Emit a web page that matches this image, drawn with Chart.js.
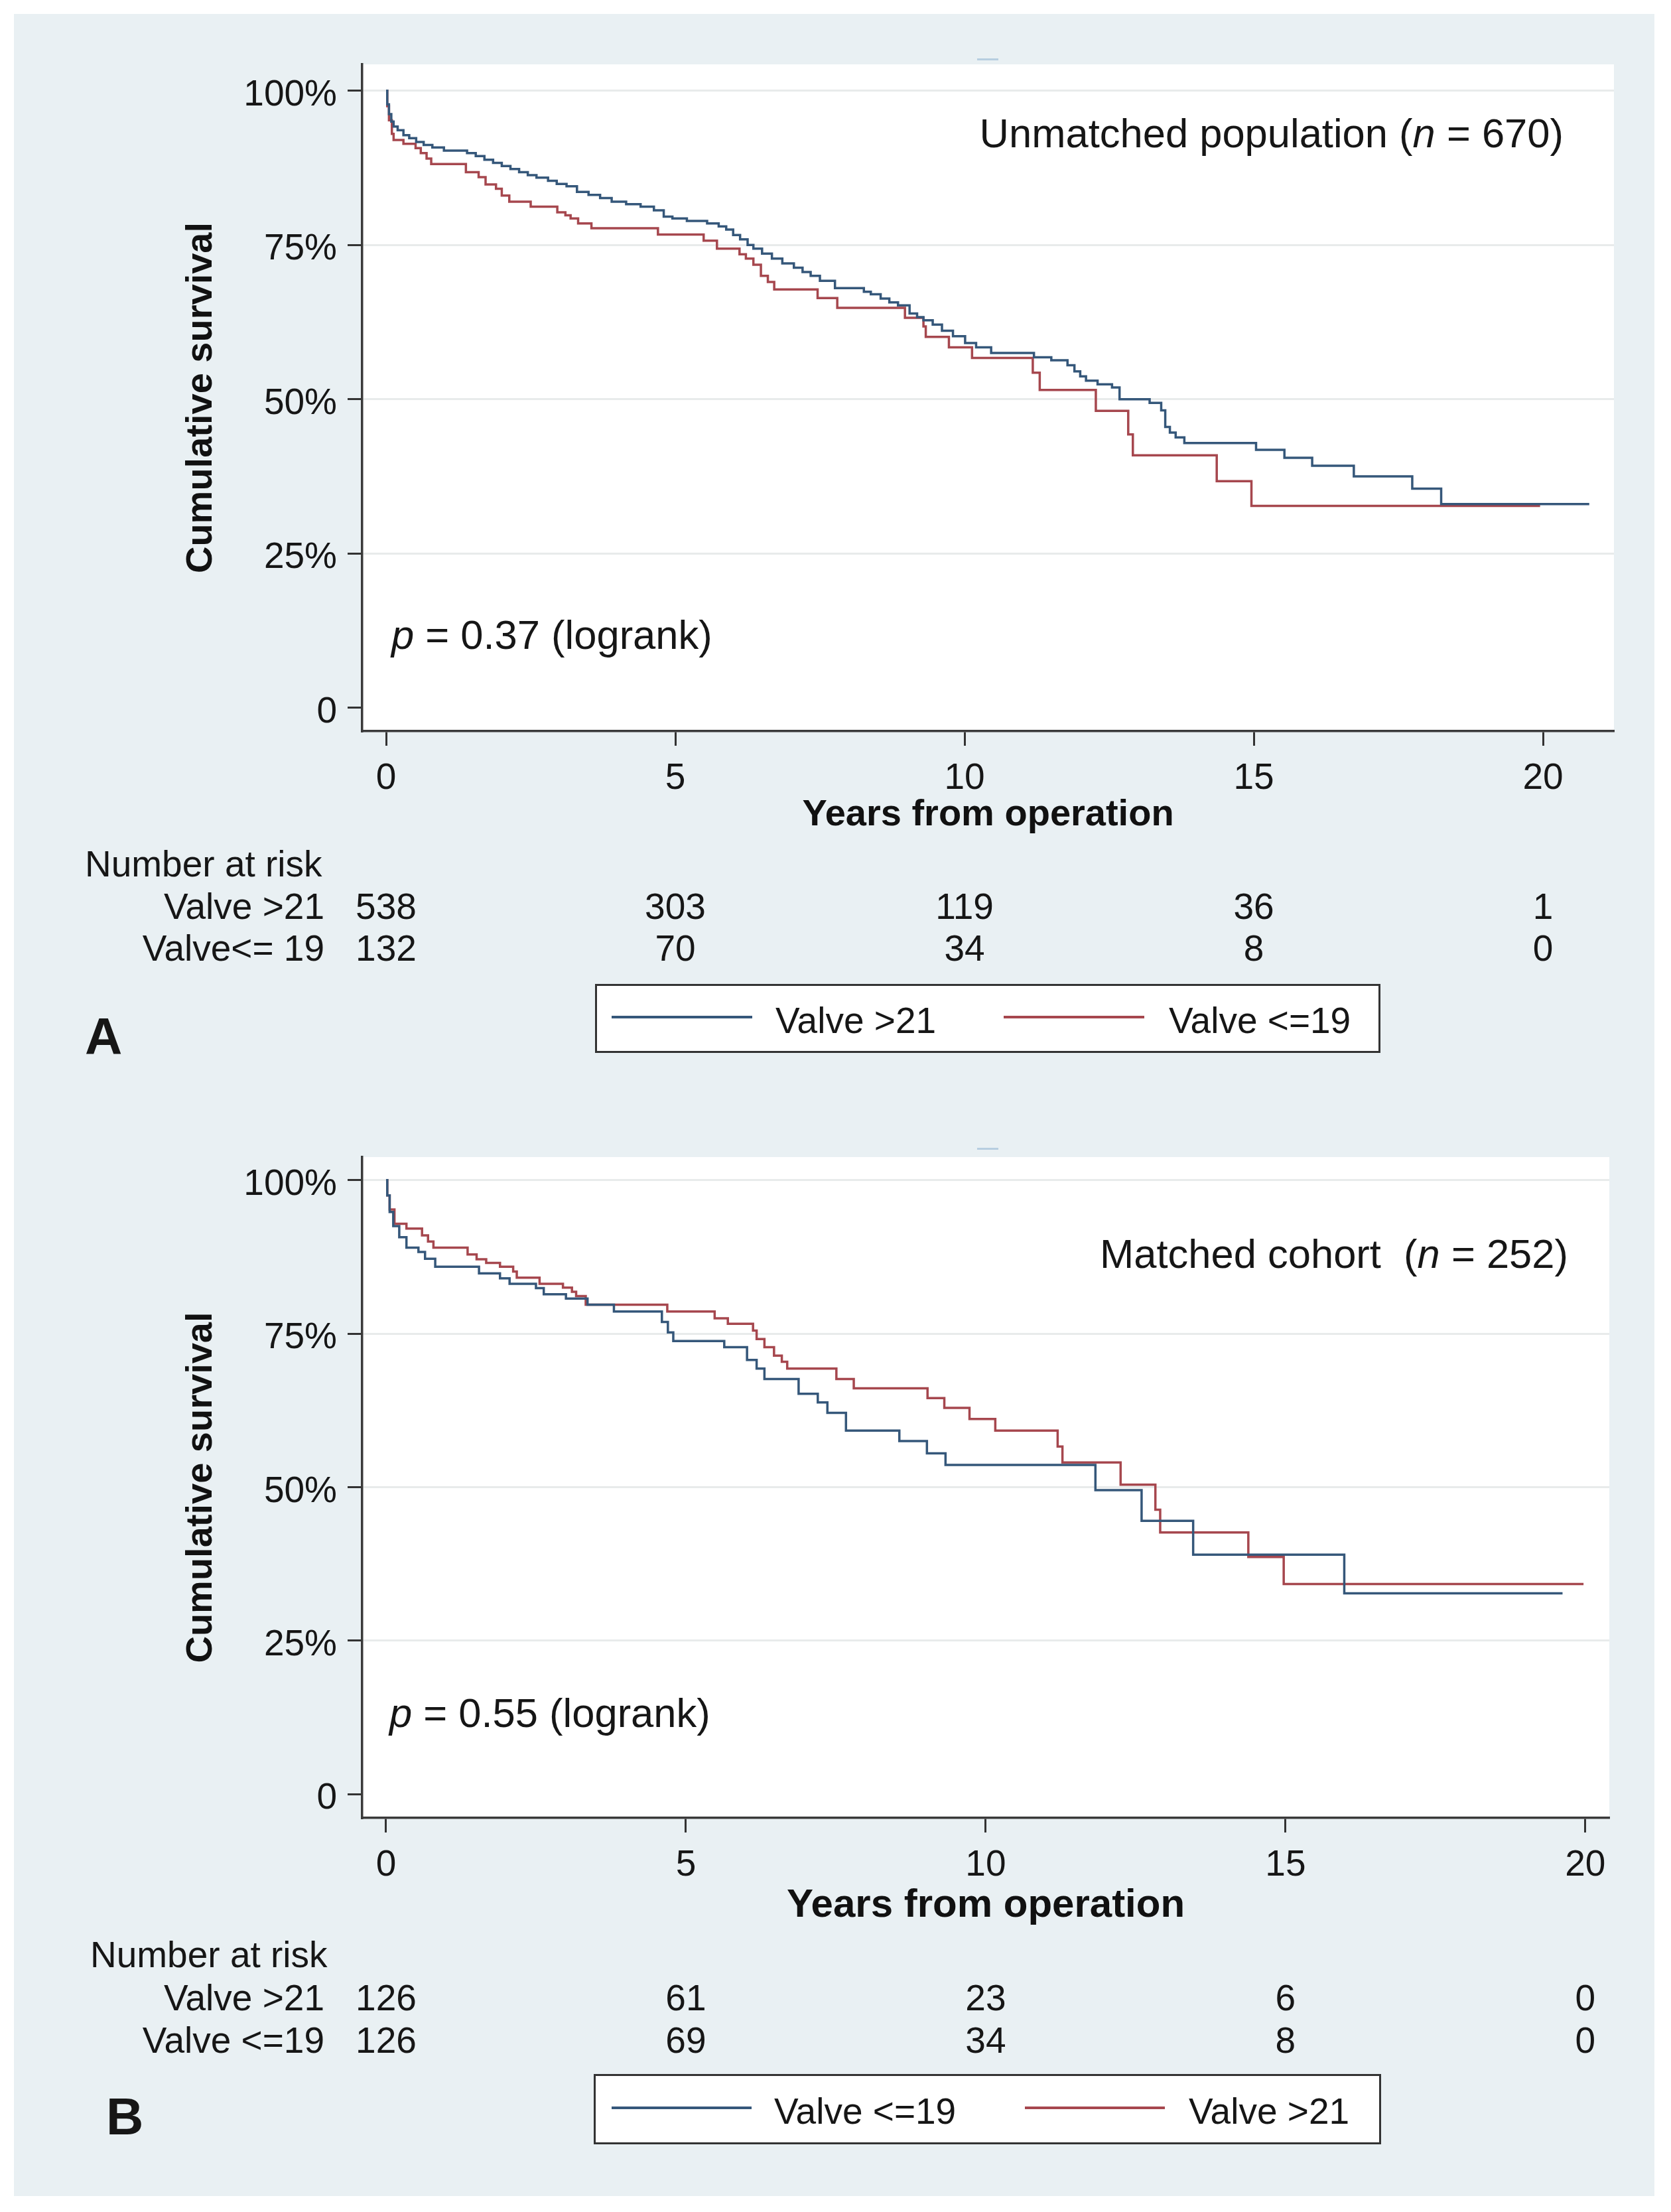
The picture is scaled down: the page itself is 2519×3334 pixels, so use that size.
<!DOCTYPE html>
<html>
<head>
<meta charset="utf-8">
<title>Survival by valve size</title>
<script src="https://cdn.jsdelivr.net/npm/chart.js@4.4.1/dist/chart.umd.min.js"></script>
<style>
  html, body { margin: 0; padding: 0; background: #fff; }
  #page { position: relative; width: 2519px; height: 3334px; background: #fff; overflow: hidden;
          font-family: 'Liberation Sans', Arial, Helvetica, sans-serif; color: #161616; }
  #bg { position: absolute; left: 21px; top: 21px; width: 2473px; height: 3289px; background: #e9f0f3; }
  canvas { position: absolute; left: 0; }
  .t { position: absolute; white-space: pre; line-height: 1; }
  .box { position: absolute; background: #fff; border: 3px solid #333; box-sizing: border-box; }
  .key { position: absolute; height: 4px; }
  .dash { position: absolute; width: 32px; height: 3px; background: #b7cee0; }
</style>
</head>
<body>
<div id="page">
  <div id="bg"></div>
  <div class="dash" style="left:1473px; top:88px;"></div>
  <div class="dash" style="left:1473px; top:1730px;"></div>
  <canvas id="chartA" width="2519" height="1300" style="top:0px; width:2519px; height:1300px;"></canvas>
  <canvas id="chartB" width="2519" height="1300" style="top:1640px; width:2519px; height:1300px;"></canvas>
</div>
<script>
const FONT = "'Liberation Sans', Arial, Helvetica, sans-serif";
const BLUE = '#35577a';
const RED = '#a6474e';

const yTickValues = [0, 25, 50, 75, 100];
const xTickValues = [0, 5, 10, 15, 20];
const riskTimes = [0, 5, 10, 15, 20];

// panel A, unmatched population: [years, survival %]
const aLargeCurve = [
  [0, 100], [0.02, 97.8], [0.05, 96.2], [0.09, 95.0], [0.13, 94.2], [0.2, 93.6], [0.3, 92.8],
  [0.4, 92.3], [0.52, 91.7], [0.65, 91.2], [0.8, 90.8], [1.0, 90.3], [1.4, 89.9], [1.55, 89.4],
  [1.7, 88.8], [1.85, 88.3], [2.0, 87.8], [2.15, 87.3], [2.3, 86.8], [2.45, 86.3], [2.6, 85.9],
  [2.8, 85.4], [2.95, 84.9], [3.12, 84.5], [3.3, 83.6], [3.5, 83.1], [3.7, 82.6], [3.9, 82.0],
  [4.15, 81.6], [4.4, 81.2], [4.63, 80.6], [4.8, 79.6], [4.95, 79.3], [5.2, 78.9], [5.55, 78.5],
  [5.75, 78.0], [5.88, 77.5], [6.0, 76.6], [6.12, 75.9], [6.25, 75.0], [6.35, 74.4], [6.5, 73.6],
  [6.67, 72.8], [6.85, 72.0], [7.05, 71.3], [7.2, 70.6], [7.34, 70.0], [7.5, 69.2], [7.76, 68.0],
  [8.26, 67.4], [8.38, 67.0], [8.55, 66.3], [8.7, 65.7], [8.85, 65.2], [9.05, 63.9], [9.18, 63.3],
  [9.29, 62.8], [9.45, 62.1], [9.61, 61.1], [9.8, 60.2], [10.01, 59.1], [10.2, 58.4], [10.46, 57.5],
  [11.2, 56.8], [11.5, 56.3], [11.78, 55.5], [11.9, 54.5], [12.0, 53.7], [12.1, 53.0], [12.3, 52.4],
  [12.55, 51.9], [12.68, 50.0], [13.2, 49.4], [13.4, 48.2], [13.47, 45.5], [13.55, 44.6],
  [13.65, 43.8], [13.8, 42.9], [15.04, 41.8], [15.53, 40.5], [16.01, 39.2], [16.73, 37.5],
  [17.74, 35.5], [18.24, 33.0], [20.8, 33.0]
];
const aSmallCurve = [
  [0, 100], [0.02, 97.5], [0.05, 95.2], [0.1, 93.0], [0.13, 92.0], [0.3, 91.4], [0.51, 90.7],
  [0.6, 89.9], [0.7, 89.0], [0.78, 88.1], [1.38, 86.8], [1.6, 86.0], [1.72, 84.8], [1.9, 84.1],
  [2.0, 83.0], [2.13, 82.0], [2.5, 81.2], [2.96, 80.3], [3.1, 79.8], [3.19, 79.3], [3.32, 78.5],
  [3.55, 77.7], [4.7, 76.7], [5.49, 75.7], [5.72, 74.4], [6.11, 73.5], [6.22, 72.8], [6.35, 71.8],
  [6.48, 70.0], [6.6, 69.0], [6.71, 67.8], [7.46, 66.4], [7.8, 64.8], [8.97, 63.2], [9.29, 61.8],
  [9.33, 60.1], [9.73, 58.4], [10.13, 56.7], [11.18, 54.3], [11.3, 51.5], [12.27, 48.1],
  [12.83, 44.3], [12.91, 40.9], [14.36, 36.7], [14.96, 32.7], [19.95, 32.7]
];

// panel B, matched cohort
const bSmallCurve = [
  [0, 100], [0.02, 97.5], [0.06, 94.8], [0.12, 92.5], [0.22, 90.7], [0.34, 89.0], [0.54, 88.3],
  [0.65, 87.2], [0.82, 85.9], [1.55, 84.8], [1.9, 84.0], [2.06, 83.1], [2.5, 82.4], [2.63, 81.4],
  [3.0, 80.7], [3.36, 79.7], [3.8, 78.6], [4.6, 76.9], [4.7, 75.2], [4.79, 73.8], [5.64, 72.8],
  [6.02, 70.7], [6.18, 69.3], [6.31, 67.6], [6.88, 65.2], [7.2, 63.8], [7.36, 62.1], [7.67, 59.2],
  [8.56, 57.5], [9.02, 55.5], [9.33, 53.6], [11.83, 49.5], [12.6, 44.5], [13.46, 39.0],
  [15.98, 32.7], [19.62, 32.7]
];
const bLargeCurve = [
  [0, 100], [0.02, 97.5], [0.06, 95.2], [0.14, 92.9], [0.34, 92.1], [0.6, 91.0], [0.7, 90.0],
  [0.79, 89.0], [1.36, 87.9], [1.51, 87.1], [1.67, 86.5], [1.9, 85.9], [2.12, 85.1], [2.18, 84.1],
  [2.56, 83.1], [2.95, 82.5], [3.1, 81.8], [3.17, 81.1], [3.33, 79.7], [4.69, 78.6], [5.48, 77.5],
  [5.7, 76.6], [6.12, 75.5], [6.18, 74.1], [6.31, 72.8], [6.47, 71.4], [6.6, 70.4], [6.69, 69.3],
  [7.51, 67.6], [7.8, 66.1], [9.03, 64.5], [9.31, 62.9], [9.73, 61.1], [10.16, 59.2], [11.2, 56.6],
  [11.28, 54.0], [12.25, 50.4], [12.83, 46.3], [12.91, 42.6], [14.38, 38.6], [14.97, 34.2],
  [19.97, 34.2]
];

// number at risk
const aRiskLarge = [538, 303, 119, 36, 1];
const aRiskSmall = [132, 70, 34, 8, 0];
const bRiskLarge = [126, 61, 23, 6, 0];
const bRiskSmall = [126, 69, 34, 8, 0];

const plotArea = {
  id: 'plotArea',
  beforeDraw(chart) {
    const a = chart.chartArea;
    const ctx = chart.ctx;
    ctx.save();
    ctx.fillStyle = '#ffffff';
    ctx.fillRect(a.left, a.top, a.right - a.left, a.bottom - a.top);
    ctx.restore();
  }
};

function buildPanel(canvasId, cfg) {
  const el = document.getElementById(canvasId);
  return new Chart(el, {
    type: 'line',
    data: {
      datasets: cfg.series.map(s => ({
        label: s.label,
        data: s.curve.map(p => ({ x: p[0], y: p[1] })),
        borderColor: s.color,
        borderWidth: 3.5,
        stepped: true,
        pointRadius: 0,
        fill: false
      }))
    },
    options: {
      responsive: false,
      devicePixelRatio: 1,
      animation: false,
      layout: { padding: { top: cfg.padTop, right: cfg.padRight, left: 0, bottom: 0 } },
      plugins: { legend: { display: false }, tooltip: { enabled: false } },
      scales: {
        x: {
          type: 'linear',
          min: cfg.xMin,
          max: cfg.xMax,
          afterBuildTicks: sc => { sc.ticks = xTickValues.map(v => ({ value: v })); },
          afterFit: sc => { sc.height = cfg.xHeight; },
          ticks: { color: '#161616', font: { family: FONT, size: 55 }, padding: 17, maxRotation: 0 },
          grid: { drawOnChartArea: false, tickLength: 22, tickWidth: 3, tickColor: '#333' },
          border: { color: '#3a3a3a', width: 3.5 },
          title: {
            display: true, text: 'Years from operation', color: '#111',
            font: { family: FONT, size: cfg.xTitleSize, weight: 'bold' },
            padding: { top: 0, bottom: cfg.xTitlePad }
          }
        },
        y: {
          type: 'linear',
          min: cfg.yMin,
          max: cfg.yMax,
          afterBuildTicks: sc => { sc.ticks = yTickValues.map(v => ({ value: v })); },
          afterFit: sc => { sc.width = 546; },
          ticks: {
            color: '#161616', font: { family: FONT, size: 55 }, padding: 16, labelOffset: 7,
            callback: v => v === 0 ? '0' : v + '%'
          },
          grid: {
            color: c => (c.tick && c.tick.value === 0) ? 'rgba(0,0,0,0)' : '#e8ebeb',
            lineWidth: 3, tickLength: 22, tickWidth: 3, tickColor: '#333'
          },
          border: { color: '#3a3a3a', width: 3.5 },
          title: {
            display: true, text: 'Cumulative survival', color: '#111',
            font: { family: FONT, size: 56, weight: 'bold' },
            padding: { top: 270, bottom: 0 }
          }
        }
      }
    },
    plugins: [plotArea]
  });
}

const chartA = buildPanel('chartA', {
  series: [
    { label: 'Valve >21', curve: aLargeCurve, color: BLUE },
    { label: 'Valve <=19', curve: aSmallCurve, color: RED }
  ],
  padTop: 97, padRight: 86, xHeight: 198,
  xMin: -0.413, xMax: 21.227, yMin: -3.8, yMax: 104.27,
  xTitleSize: 56, xTitlePad: 38
});

const chartB = buildPanel('chartB', {
  series: [
    { label: 'Valve <=19', curve: bSmallCurve, color: BLUE },
    { label: 'Valve >21', curve: bLargeCurve, color: RED }
  ],
  padTop: 104, padRight: 93, xHeight: 200,
  xMin: -0.398, xMax: 20.4, yMin: -3.89, yMax: 103.75,
  xTitleSize: 60, xTitlePad: 32
});

// ---- text overlays (annotations, risk table, legend) ----
const page = document.getElementById('page');

function text(html, x, yc, size, align, extra) {
  const d = document.createElement('div');
  d.className = 't';
  d.innerHTML = html;
  d.style.fontSize = size + 'px';
  d.style.top = (yc - 0.4885 * size) + 'px';
  d.style.left = x + 'px';
  if (align === 'right') d.style.transform = 'translateX(-100%)';
  else if (align === 'center') d.style.transform = 'translateX(-50%)';
  if (extra) Object.assign(d.style, extra);
  page.appendChild(d);
}

function riskTable(chart, rows, headerY, headerX) {
  const xs = chart.scales.x;
  const off = chart.canvas.offsetLeft;
  text('Number at risk', headerX, headerY, 55, 'left');
  rows.forEach(r => {
    text(r.label, 489, r.y, 55, 'right');
    riskTimes.forEach((t, i) => {
      text(String(r.values[i]), off + xs.getPixelForValue(t), r.y, 55, 'center');
    });
  });
}

function legendBox(chart, box, keys) {
  const b = document.createElement('div');
  b.className = 'box';
  Object.assign(b.style, { left: box.x + 'px', top: box.y + 'px', width: box.w + 'px', height: box.h + 'px' });
  page.appendChild(b);
  const cy = box.y + box.h / 2;
  keys.forEach((k, i) => {
    const ds = chart.data.datasets[i];
    const line = document.createElement('div');
    line.className = 'key';
    Object.assign(line.style, { left: k.lineX + 'px', top: (cy - 4) + 'px', width: k.lineW + 'px', background: ds.borderColor });
    page.appendChild(line);
    text(ds.label, k.textX, cy + 3, 55, 'left');
  });
}

// panel A
text('Unmatched population (<i>n</i> = 670)', 2357, 200, 61.5, 'right');
text('<i>p</i> = 0.37 (logrank)', 590, 956, 61.5, 'left');
riskTable(chartA, [
  { label: 'Valve &gt;21', values: aRiskLarge, y: 1366 },
  { label: 'Valve&lt;= 19', values: aRiskSmall, y: 1429 }
], 1302, 128);
legendBox(chartA, { x: 897, y: 1483, w: 1184, h: 104 }, [
  { lineX: 922, lineW: 212, textX: 1169 },
  { lineX: 1513, lineW: 212, textX: 1762 }
]);
text('A', 128, 1561, 78, 'left', { fontWeight: 'bold' });

// panel B
text('Matched cohort  (<i>n</i> = 252)', 2364, 1889, 61.5, 'right');
text('<i>p</i> = 0.55 (logrank)', 587, 2581, 61.5, 'left');
riskTable(chartB, [
  { label: 'Valve &gt;21', values: bRiskLarge, y: 3011 },
  { label: 'Valve &lt;=19', values: bRiskSmall, y: 3075 }
], 2946, 136);
legendBox(chartB, { x: 895, y: 3126, w: 1187, h: 106 }, [
  { lineX: 922, lineW: 211, textX: 1167 },
  { lineX: 1545, lineW: 211, textX: 1792 }
]);
text('B', 160, 3189, 78, 'left', { fontWeight: 'bold' });
</script>
</body>
</html>
